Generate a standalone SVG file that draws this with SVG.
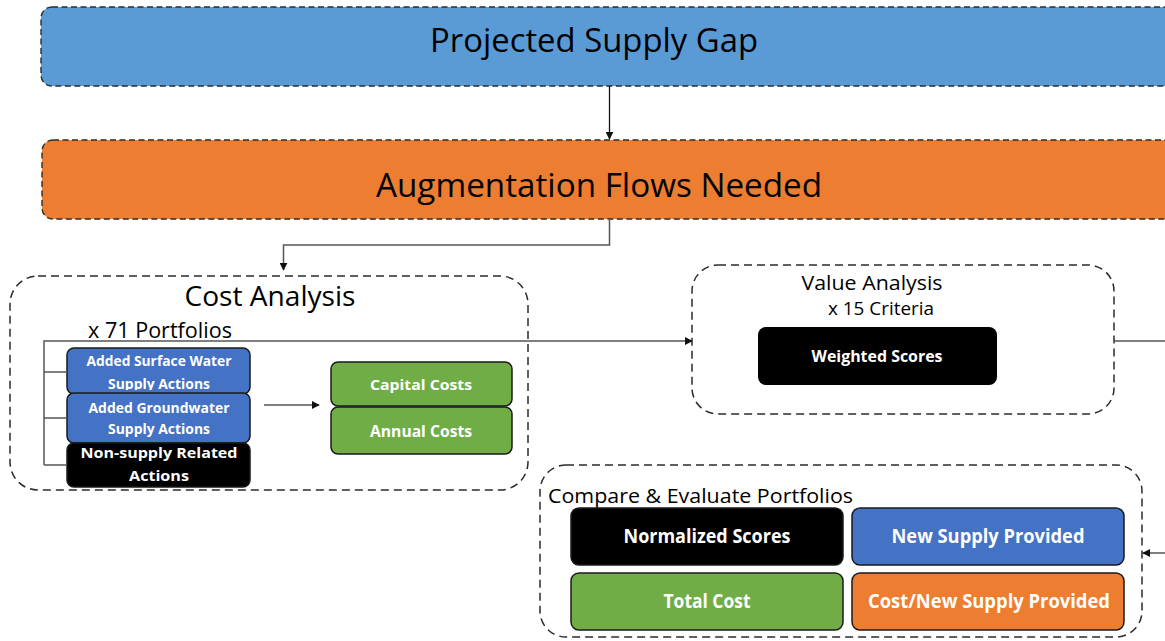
<svg xmlns="http://www.w3.org/2000/svg" width="1165" height="641" viewBox="0 0 1165 641">
  <style>
    .band { stroke: #2b2b2b; stroke-width: 1.4; stroke-dasharray: 6 3.5; }
    .frame { fill: none; stroke: #2b2b2b; stroke-width: 1.5; stroke-dasharray: 8 5; }
    .tile { stroke: #1a1a1a; stroke-width: 1.5; }
    .wire { fill: none; stroke: #555; stroke-width: 1.5; }
    .dark { fill: none; stroke: #111; stroke-width: 1.3; }
    .big { font-family: "Open Sans", "Liberation Sans", sans-serif; fill: #000; }
    .lbl { font-family: "Open Sans", "Liberation Sans", sans-serif; font-weight: bold; fill: #fff; text-anchor: middle; }
  </style>
  <defs>
    <marker id="tip" viewBox="0 0 10 10" refX="9" refY="5" markerWidth="8" markerHeight="8" orient="auto" markerUnits="userSpaceOnUse">
      <path d="M0,0 L10,5 L0,10 z" fill="#111"/>
    </marker>
    <!-- text overflowing the surface-water tile is cut at its inner edge -->
    <clipPath id="surface-clip">
      <rect x="67" y="348" width="183" height="42"/>
    </clipPath>
  </defs>

  <rect width="1165" height="641" fill="#fff"/>

  <!-- top bands -->
  <g id="supply-gap">
    <rect class="band" x="41" y="7" width="1140" height="79" rx="11" fill="#5B9BD5"/>
    <text class="big" x="594" y="52" font-size="32" text-anchor="middle" textLength="328" lengthAdjust="spacingAndGlyphs">Projected Supply Gap</text>
  </g>
  <g id="augmentation">
    <rect class="band" x="42" y="140" width="1140" height="79" rx="11" fill="#ED7D31"/>
    <text class="big" x="599" y="197" font-size="32" text-anchor="middle" textLength="446" lengthAdjust="spacingAndGlyphs">Augmentation Flows Needed</text>
  </g>

  <!-- cost analysis -->
  <g id="cost-analysis">
    <rect class="frame" x="10" y="276" width="518" height="214" rx="28"/>
    <text class="big" x="270" y="306" font-size="27" text-anchor="middle" textLength="171" lengthAdjust="spacingAndGlyphs">Cost Analysis</text>
    <text class="big" x="88" y="338" font-size="21" textLength="144" lengthAdjust="spacingAndGlyphs">x 71 Portfolios</text>
  </g>
  <g id="surface-water">
    <rect class="tile" x="67" y="348" width="183" height="46" rx="7" fill="#4472C4"/>
    <g clip-path="url(#surface-clip)">
      <text class="lbl" x="159" y="366" font-size="14" textLength="145" lengthAdjust="spacingAndGlyphs">Added Surface Water</text>
      <text class="lbl" x="159" y="389" font-size="14" textLength="102" lengthAdjust="spacingAndGlyphs">Supply Actions</text>
    </g>
  </g>
  <g id="groundwater">
    <rect class="tile" x="67" y="393" width="183" height="50" rx="7" fill="#4472C4"/>
    <text class="lbl" x="159" y="413" font-size="14.5" textLength="141" lengthAdjust="spacingAndGlyphs">Added Groundwater</text>
    <text class="lbl" x="159" y="434" font-size="14.5" textLength="102" lengthAdjust="spacingAndGlyphs">Supply Actions</text>
  </g>
  <g id="non-supply">
    <rect class="tile" x="67" y="443" width="183" height="44" rx="7" fill="#000"/>
    <text class="lbl" x="159" y="458" font-size="14.5" textLength="157" lengthAdjust="spacingAndGlyphs">Non-supply Related</text>
    <text class="lbl" x="159" y="481" font-size="14.5" textLength="60" lengthAdjust="spacingAndGlyphs">Actions</text>
  </g>
  <g id="capital-costs">
    <rect class="tile" x="331" y="362" width="181" height="44" rx="7" fill="#70AD47"/>
    <text class="lbl" x="421" y="390" font-size="14" textLength="102" lengthAdjust="spacingAndGlyphs">Capital Costs</text>
  </g>
  <g id="annual-costs">
    <rect class="tile" x="331" y="407" width="181" height="47" rx="7" fill="#70AD47"/>
    <text class="lbl" x="421" y="437" font-size="16" textLength="102" lengthAdjust="spacingAndGlyphs">Annual Costs</text>
  </g>

  <!-- value analysis -->
  <g id="value-analysis">
    <rect class="frame" x="692" y="265" width="422" height="149" rx="26"/>
    <text class="big" x="872" y="290" font-size="20" text-anchor="middle" textLength="141" lengthAdjust="spacingAndGlyphs">Value Analysis</text>
    <text class="big" x="881" y="315" font-size="18" text-anchor="middle" textLength="106" lengthAdjust="spacingAndGlyphs">x 15 Criteria</text>
  </g>
  <g id="weighted-scores">
    <rect x="758" y="327" width="239" height="58" rx="8" fill="#000"/>
    <text class="lbl" x="877" y="362" font-size="16" textLength="131" lengthAdjust="spacingAndGlyphs">Weighted Scores</text>
  </g>

  <!-- compare and evaluate -->
  <g id="compare">
    <rect class="frame" x="540" y="465" width="602" height="172" rx="26"/>
    <text class="big" x="548" y="503" font-size="20" textLength="305" lengthAdjust="spacingAndGlyphs">Compare &amp; Evaluate Portfolios</text>
  </g>
  <g id="normalized-scores">
    <rect class="tile" x="571" y="508" width="272" height="57" rx="8" fill="#000"/>
    <text class="lbl" x="707" y="543" font-size="19" textLength="167" lengthAdjust="spacingAndGlyphs">Normalized Scores</text>
  </g>
  <g id="new-supply">
    <rect class="tile" x="852" y="508" width="272" height="57" rx="8" fill="#4472C4"/>
    <text class="lbl" x="988" y="543" font-size="19" textLength="193" lengthAdjust="spacingAndGlyphs">New Supply Provided</text>
  </g>
  <g id="total-cost">
    <rect class="tile" x="571" y="573" width="272" height="57" rx="8" fill="#70AD47"/>
    <text class="lbl" x="707" y="608" font-size="19" textLength="87" lengthAdjust="spacingAndGlyphs">Total Cost</text>
  </g>
  <g id="cost-per-supply">
    <rect class="tile" x="852" y="573" width="272" height="57" rx="8" fill="#ED7D31"/>
    <text class="lbl" x="989" y="608" font-size="19" textLength="242" lengthAdjust="spacingAndGlyphs">Cost/New Supply Provided</text>
  </g>

  <!-- connectors -->
  <g id="connectors">
    <line class="dark" x1="609.5" y1="86" x2="609.5" y2="139" marker-end="url(#tip)"/>
    <polyline class="wire" points="609.5,219 609.5,245 283.5,245 283.5,270" marker-end="url(#tip)"/>
    <polyline class="wire" points="44,465 44,341 692,341" marker-end="url(#tip)"/>
    <line class="wire" x1="44" y1="372" x2="67" y2="372"/>
    <line class="wire" x1="44" y1="418" x2="67" y2="418"/>
    <line class="wire" x1="44" y1="465" x2="67" y2="465"/>
    <line class="wire" x1="264" y1="405" x2="319" y2="405" marker-end="url(#tip)"/>
    <line class="wire" x1="1114" y1="341" x2="1165" y2="341"/>
    <line class="wire" x1="1165" y1="553" x2="1143" y2="553" marker-end="url(#tip)"/>
  </g>
</svg>
